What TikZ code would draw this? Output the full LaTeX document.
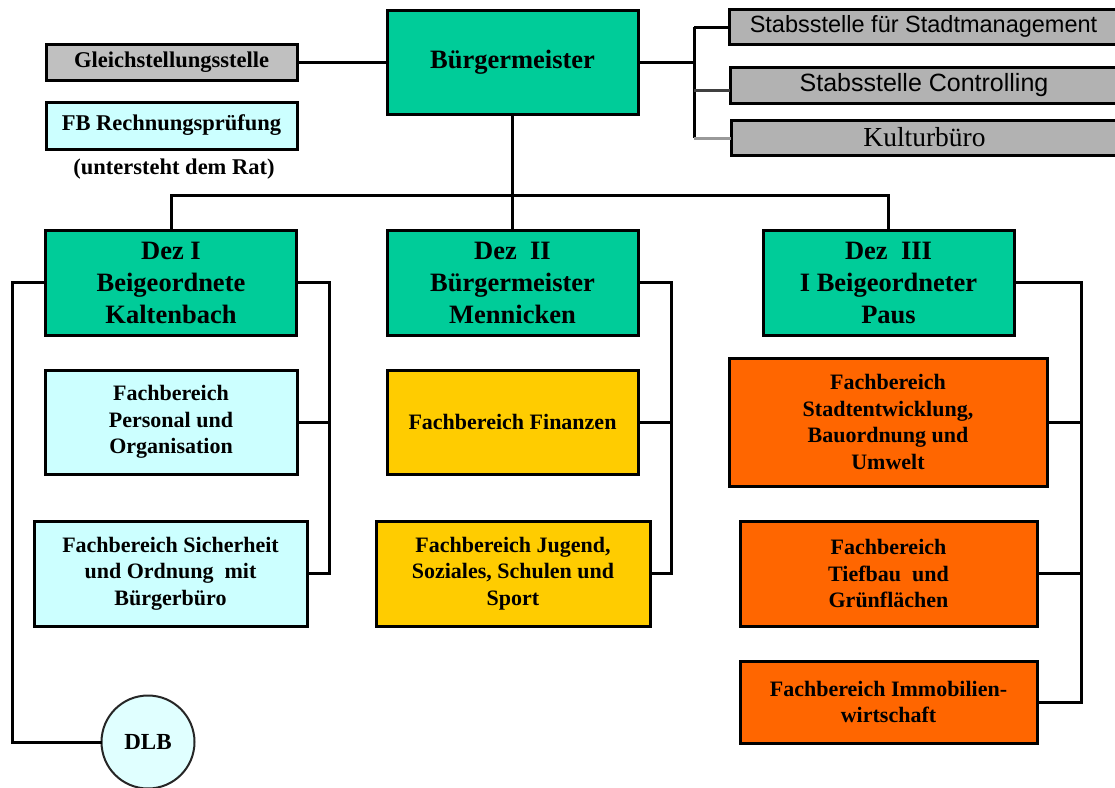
\documentclass[tikz,border=0pt]{standalone}
\usepackage{fontspec}
\setmainfont{Liberation Serif}
\setsansfont{Liberation Sans}
\definecolor{bmgreen}{HTML}{00CC99}
\definecolor{lcyan}{HTML}{CCFFFF}
\definecolor{dlbcyan}{HTML}{E0FFFF}
\definecolor{gray1}{HTML}{C0C0C0}
\definecolor{gray2}{HTML}{B2B2B2}
\definecolor{fbyellow}{HTML}{FFCC00}
\definecolor{fborange}{HTML}{FF6600}
\begin{document}
\begin{tikzpicture}[x=1pt,y=-1pt,
  box/.style={draw=black, line width=3pt, inner sep=0pt, outer sep=0pt, align=center,
    font=\bfseries\fontsize{22}{26.5}\selectfont},
  dezbox/.style={box, fill=bmgreen, minimum width=251pt, minimum height=105pt,
    font=\bfseries\fontsize{26.5}{32}\selectfont},
  stabbox/.style={box, fill=gray2, font=\sffamily\fontsize{24}{28}\selectfont},
  conn/.style={line width=3pt}]
\clip (0,0) rectangle (1115,787);
\fill[white] (0,0) rectangle (1115,787);

% top level
\node[box, fill=bmgreen, minimum width=251pt, minimum height=104pt,
  font=\bfseries\fontsize{26.5}{31}\selectfont] (bm) at (512.5,62) {Bürgermeister};
\node[box, fill=gray1, minimum width=251pt, minimum height=36pt,
  font=\bfseries\fontsize{22.5}{24}\selectfont] (gl) at (171.5,62) {Gleichstellungsstelle};
\node[box, fill=lcyan, minimum width=251pt, minimum height=47pt,
  font=\bfseries\fontsize{22.5}{24}\selectfont] (rp) at (171.5,125.5) {FB Rechnungsprüfung};
\node[font=\bfseries\fontsize{22.5}{24}\selectfont, inner sep=0pt] (rat) at (174,169) {(untersteht dem Rat)};

\node[stabbox, minimum width=389pt, minimum height=35pt, font=\sffamily\fontsize{23.5}{28}\selectfont] (s1) at (923.5,26.5) {Stabsstelle für Stadtmanagement};
\node[stabbox, minimum width=388pt, minimum height=36pt, font=\sffamily\fontsize{25}{28}\selectfont] (s2) at (924,85) {Stabsstelle Controlling};
\node[stabbox, minimum width=387pt, minimum height=35pt, font=\fontsize{27.5}{30}\selectfont] (s3) at (924.5,137.5) {Kulturbüro};

% Dezernate
\node[dezbox] (d1) at (171,282.5) {Dez I\\Beigeordnete\\Kaltenbach};
\node[dezbox] (d2) at (512.5,282.5) {Dez \ II\\Bürgermeister\\Mennicken};
\node[dezbox] (d3) at (888.5,282.5) {Dez \ III\\I Beigeordneter\\Paus};

% Fachbereiche Dez I
\node[box, fill=lcyan, minimum width=252pt, minimum height=104pt] (p1) at (171,422) {Fachbereich\\Personal und\\Organisation};
\node[box, fill=lcyan, minimum width=273pt, minimum height=105pt] (p2) at (170.5,573.5) {Fachbereich Sicherheit\\und Ordnung \ mit\\Bürgerbüro};
\node[circle, draw=black!85, line width=2pt, fill=dlbcyan, minimum size=93pt, inner sep=0pt, outer sep=0pt,
  font=\bfseries\fontsize{23}{26}\selectfont] (dlb) at (148,742) {DLB};

% Fachbereiche Dez II
\node[box, fill=fbyellow, minimum width=251pt, minimum height=104pt] (f1) at (512.5,422) {Fachbereich Finanzen};
\node[box, fill=fbyellow, minimum width=274pt, minimum height=105pt] (f2) at (513,573.5) {Fachbereich Jugend,\\Soziales, Schulen und\\Sport};

% Fachbereiche Dez III
\node[box, fill=fborange, minimum width=318pt, minimum height=128pt] (o1) at (888,422) {Fachbereich\\Stadtentwicklung,\\Bauordnung und\\Umwelt};
\node[box, fill=fborange, minimum width=297pt, minimum height=105pt] (o2) at (888.5,573.5) {Fachbereich\\Tiefbau \ und\\Grünflächen};
\node[box, fill=fborange, minimum width=297pt, minimum height=82pt] (o3) at (888.5,702) {Fachbereich Immobilien-\\wirtschaft};

% connectors top
\draw[conn] (gl) -- (bm);
\coordinate (sT) at (694,27);
\coordinate (sM) at (694,90);
\coordinate (sB) at (694,138);
\draw[conn] (bm.east) -- (bm.east -| sT);
\draw[conn] (sT) -- (sB);
\draw[conn] (sT) -- (s1.west |- sT);
\draw[conn, black!75] (sM) -- (s2.west |- sM);
\draw[conn, gray!80] (sB) -- (s3.west |- sB);

\coordinate (tb) at (512.5,195);
\draw[conn] (bm.south) -- (tb);
\draw[conn] (d1.north) |- (tb) -| (d3.north);
\draw[conn] (tb) -- (d2.north);

% Dez I
\draw[conn] (d1.west) -- ++(-33,0) |- (dlb.west);
\draw[conn] (d1.east) -- ++(33,0) |- (p2.east);
\draw[conn] (p1.east) -- ++(33,0);

% Dez II
\draw[conn] (d2.east) -- ++(33,0) |- (f2.east);
\draw[conn] (f1.east) -- ++(33,0);

% Dez III
\draw[conn] (d3.east) -- ++(67,0) |- (o3.east);
\draw[conn] (o1.east) -- ++(34,0);
\draw[conn] (o2.east) -- ++(44,0);
\end{tikzpicture}
\end{document}
